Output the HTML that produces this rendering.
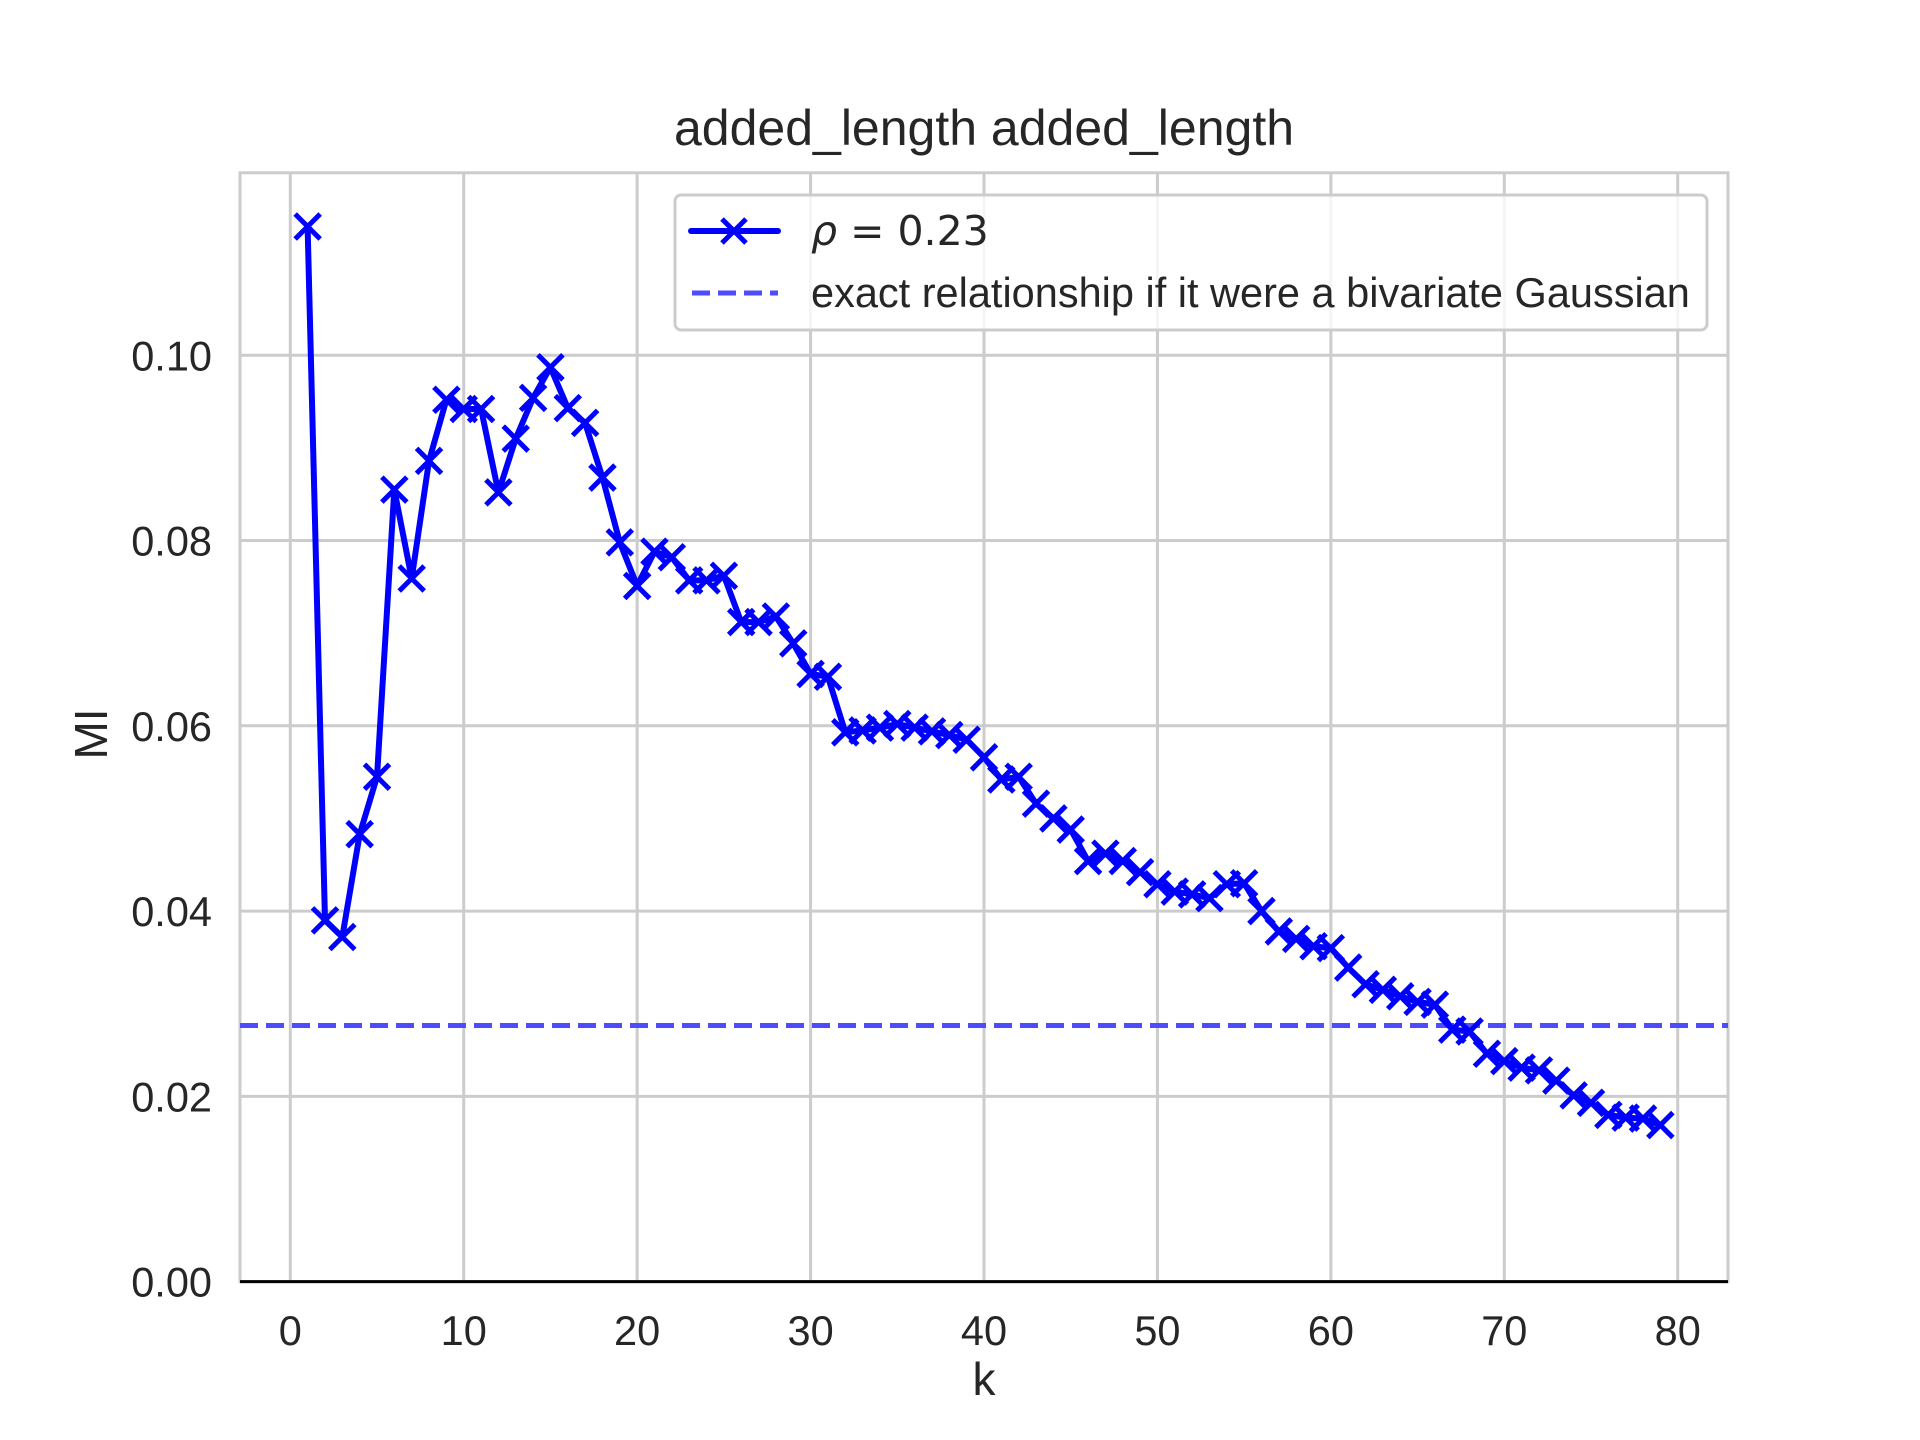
<!DOCTYPE html>
<html><head><meta charset="utf-8"><style>
html,body{margin:0;padding:0;background:#fff}
svg{display:block;font-family:"Liberation Sans",Arial,sans-serif}
</style></head><body>
<svg id="chart" width="1920" height="1440" viewBox="0 0 1920 1440">
<rect width="1920" height="1440" fill="#fff"/>
<g id="grid"></g>
<g id="plot"></g>
<g id="ticks"></g>
<text x="984" y="145" text-anchor="middle" font-size="50" fill="#262626">added_length added_length</text>
<text x="984" y="1395" text-anchor="middle" font-size="46" fill="#262626">k</text>
<text transform="translate(107,734) rotate(-90)" text-anchor="middle" font-size="46" fill="#262626">MI</text>
<g>
<rect x="675" y="195" width="1032" height="135" rx="6" fill="#fff" fill-opacity="0.8" stroke="#cccccc" stroke-width="3"/>
<line x1="691" y1="231" x2="778" y2="231" stroke="#0000ff" stroke-width="6" stroke-linecap="round"/>
<path d="M722,219 L746,243 M746,219 L722,243" stroke="#0000ff" stroke-width="5"/>
<text x="811" y="245" font-size="41" fill="#262626" font-family="'DejaVu Sans',sans-serif"><tspan font-style="italic">ρ</tspan> = 0.23</text>
<line x1="692" y1="293" x2="778" y2="293" stroke="#4d4dff" stroke-width="5" stroke-dasharray="18,8"/>
<text x="811" y="307" font-size="41.5" fill="#262626">exact relationship if it were a bivariate Gaussian</text>
</g>
</svg>
<script>
const ks = [];
for (let i = 1; i <= 79; i++) ks.push(i);
const miValues = [0.1139,0.0390,0.0372,0.0483,0.0545,0.0855,0.0759,0.0886,0.0952,0.0942,
0.0942,0.0852,0.0910,0.0954,0.0987,0.0943,0.0927,0.0868,0.0798,0.0751,
0.0788,0.0782,0.0757,0.0757,0.0762,0.0712,0.0712,0.0718,0.0689,0.0656,
0.0653,0.0593,0.0595,0.0598,0.0602,0.0598,0.0594,0.0590,0.0585,0.0566,
0.0542,0.0545,0.0516,0.0500,0.0488,0.0454,0.0462,0.0454,0.0442,0.0429,
0.0421,0.0418,0.0414,0.0429,0.0430,0.0400,0.0378,0.0370,0.0362,0.0360,
0.0339,0.0321,0.0315,0.0308,0.0302,0.0299,0.0272,0.0270,0.0246,0.0238,
0.0231,0.0228,0.0217,0.0201,0.0193,0.0180,0.0177,0.0176,0.0169];
const gaussianMI = 0.02765;
const xTicks = [0,10,20,30,40,50,60,70,80];
const yTicks = [0,0.02,0.04,0.06,0.08,0.10];
const yTickLabels = ["0.00","0.02","0.04","0.06","0.08","0.10"];

const L=240, R=1728, T=172.8, B=1281.6;
const xMin=-2.9, xMax=82.9, yMin=0, yMax=0.1197;
const xs = v => L + (v-xMin)/(xMax-xMin)*(R-L);
const ys = v => B - (v-yMin)/(yMax-yMin)*(B-T);
const NS="http://www.w3.org/2000/svg";
function mk(tag, attrs, parent){const e=document.createElementNS(NS,tag);for(const k in attrs)e.setAttribute(k,attrs[k]);parent.appendChild(e);return e;}
const grid=document.getElementById('grid'), plot=document.getElementById('plot'), ticks=document.getElementById('ticks');

xTicks.forEach(t=>{
  const l=mk('line',{x1:xs(t),x2:xs(t),y1:T,y2:B,stroke:'#cccccc','stroke-width':3},grid);
  
  
  const tx=mk('text',{x:xs(t),y:1345,'text-anchor':'middle','font-size':41.5,fill:'#262626'},ticks);
  tx.textContent=t;
  
  
});
yTicks.forEach((t,i)=>{
  const l=mk('line',{x1:L,x2:R,y1:ys(t),y2:ys(t),stroke:'#cccccc','stroke-width':3},grid);
  
  
  const tx=mk('text',{x:212,y:ys(t)+15,'text-anchor':'end','font-size':41.5,fill:'#262626'},ticks);
  tx.textContent=yTickLabels[i];
  
  
});
const frame=mk('rect',{x:L,y:T,width:R-L,height:B-T,fill:'none',stroke:'#cccccc','stroke-width':3},grid);


const zero=mk('line',{x1:L,x2:R,y1:ys(0),y2:ys(0),stroke:'#000','stroke-width':3},grid);



const dash=mk('line',{x1:L,x2:R,y1:ys(gaussianMI),y2:ys(gaussianMI),stroke:'#4d4dff','stroke-width':5,'stroke-dasharray':'18,8'},plot);



const pts=ks.map((k,i)=>xs(k).toFixed(1)+','+ys(miValues[i]).toFixed(1)).join(' ');
const pl=mk('polyline',{points:pts,fill:'none',stroke:'#0000ff','stroke-width':6,'stroke-linejoin':'round'},plot);


ks.forEach((k,i)=>{
  const x=xs(k), y=ys(miValues[i]), s=12.5;
  const m=mk('path',{d:`M${x-s},${y-s} L${x+s},${y+s} M${x+s},${y-s} L${x-s},${y+s}`,stroke:'#0000ff','stroke-width':5},plot);
  
  
});
</script>
</body></html>
